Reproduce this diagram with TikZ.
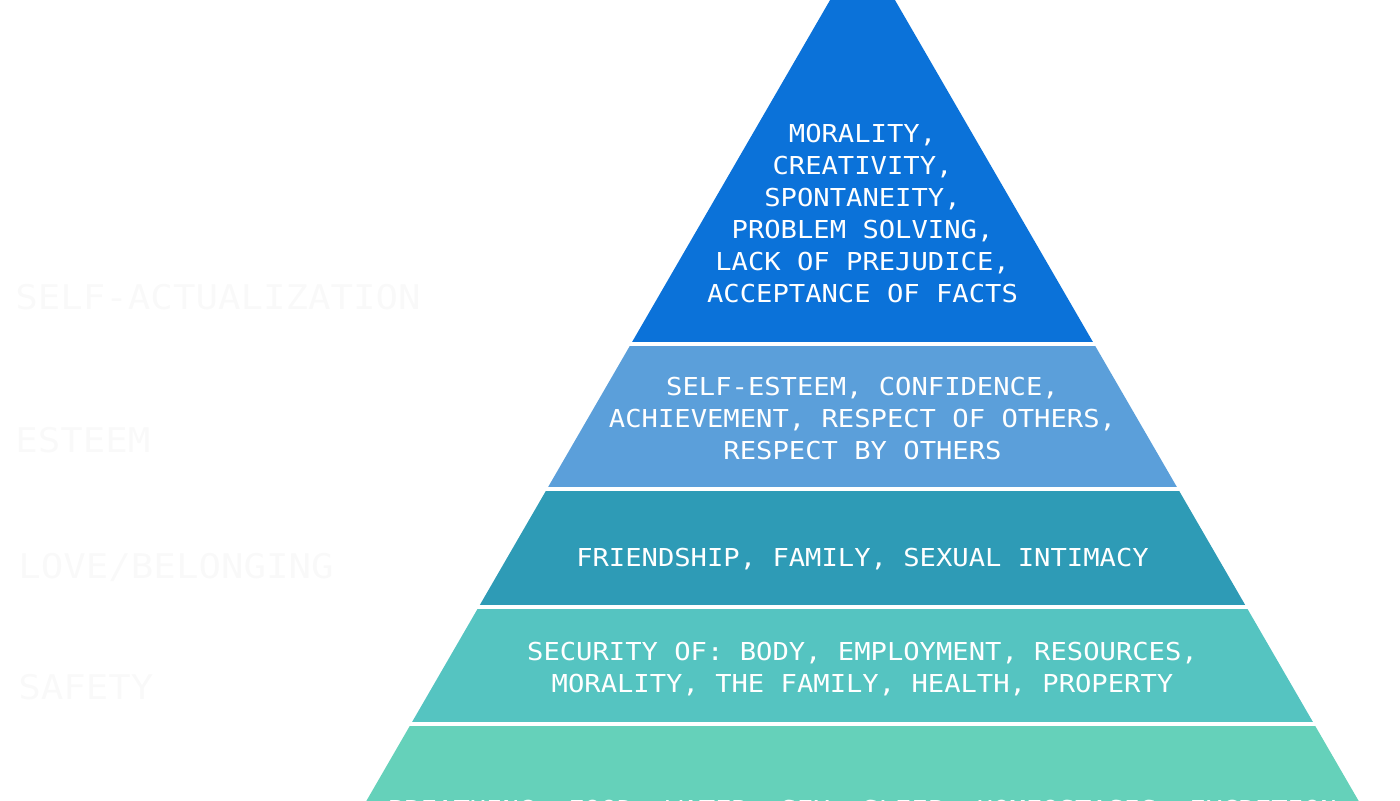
\documentclass[tikz,border=0pt]{standalone}
\usepackage{fontspec}
\newfontfamily\pyrfont{DejaVu Sans Mono}[FakeStretch=1.1]
\definecolor{lvlA}{HTML}{0B72D9}
\definecolor{lvlB}{HTML}{5B9FDA}
\definecolor{lvlC}{HTML}{2E9BB6}
\definecolor{lvlD}{HTML}{55C4C1}
\definecolor{lvlE}{HTML}{65D1BA}

\begin{document}
\begin{tikzpicture}[
  x=0.5pt, y=-0.5pt,
  font=\pyrfont\fontsize{12.35}{16}\selectfont,
  need/.style ={text=white, align=center, anchor=north, inner sep=0pt},
  ghost/.style={text=black!2.5, anchor=west, inner sep=0pt,
                font=\pyrfont\fontsize{17}{20}\selectfont}
]
\useasboundingbox (0,0) rectangle (1400,800);

% one triangle, cut into bands by thin white gaps
\begin{scope}
  \clip (0,0) rectangle (1400,800);
  \clip (862.5,-56) -- (1416,900) -- (309,900) -- cycle;
  \fill[lvlA] (300,-60)   rectangle (1420,341.5);
  \fill[lvlB] (300,345.5) rectangle (1420,487);
  \fill[lvlC] (300,491)   rectangle (1420,604.5);
  \fill[lvlD] (300,608.5) rectangle (1420,721.5);
  \fill[lvlE] (300,725.5) rectangle (1420,900);
\end{scope}

\node[need] (selfact) at (862.5,124) {MORALITY,\\CREATIVITY,\\SPONTANEITY,\\PROBLEM SOLVING,\\LACK OF PREJUDICE,\\ACCEPTANCE OF FACTS};
\node[need] (esteem)  at (862.5,377) {SELF-ESTEEM, CONFIDENCE,\\ACHIEVEMENT, RESPECT OF OTHERS,\\RESPECT BY OTHERS};
\node[need] (love)    at (862.5,548) {FRIENDSHIP, FAMILY, SEXUAL INTIMACY};
\node[need] (safety)  at (862.5,642) {SECURITY OF: BODY, EMPLOYMENT, RESOURCES,\\MORALITY, THE FAMILY, HEALTH, PROPERTY};
% the picture ends in the middle of this line
\node[need] (physio)  at (862.5,800) {BREATHING, FOOD, WATER, SEX, SLEEP, HOMEOSTASIS, EXCRETION};

% the level names, printed white on white
\node[ghost] (gselfact) at (15,297) {SELF-ACTUALIZATION};
\node[ghost] (gesteem)  at (15,440) {ESTEEM};
\node[ghost] (glove)    at (18,567) {LOVE/BELONGING};
\node[ghost] (gsafety)  at (18,687) {SAFETY};

\end{tikzpicture}
\end{document}
